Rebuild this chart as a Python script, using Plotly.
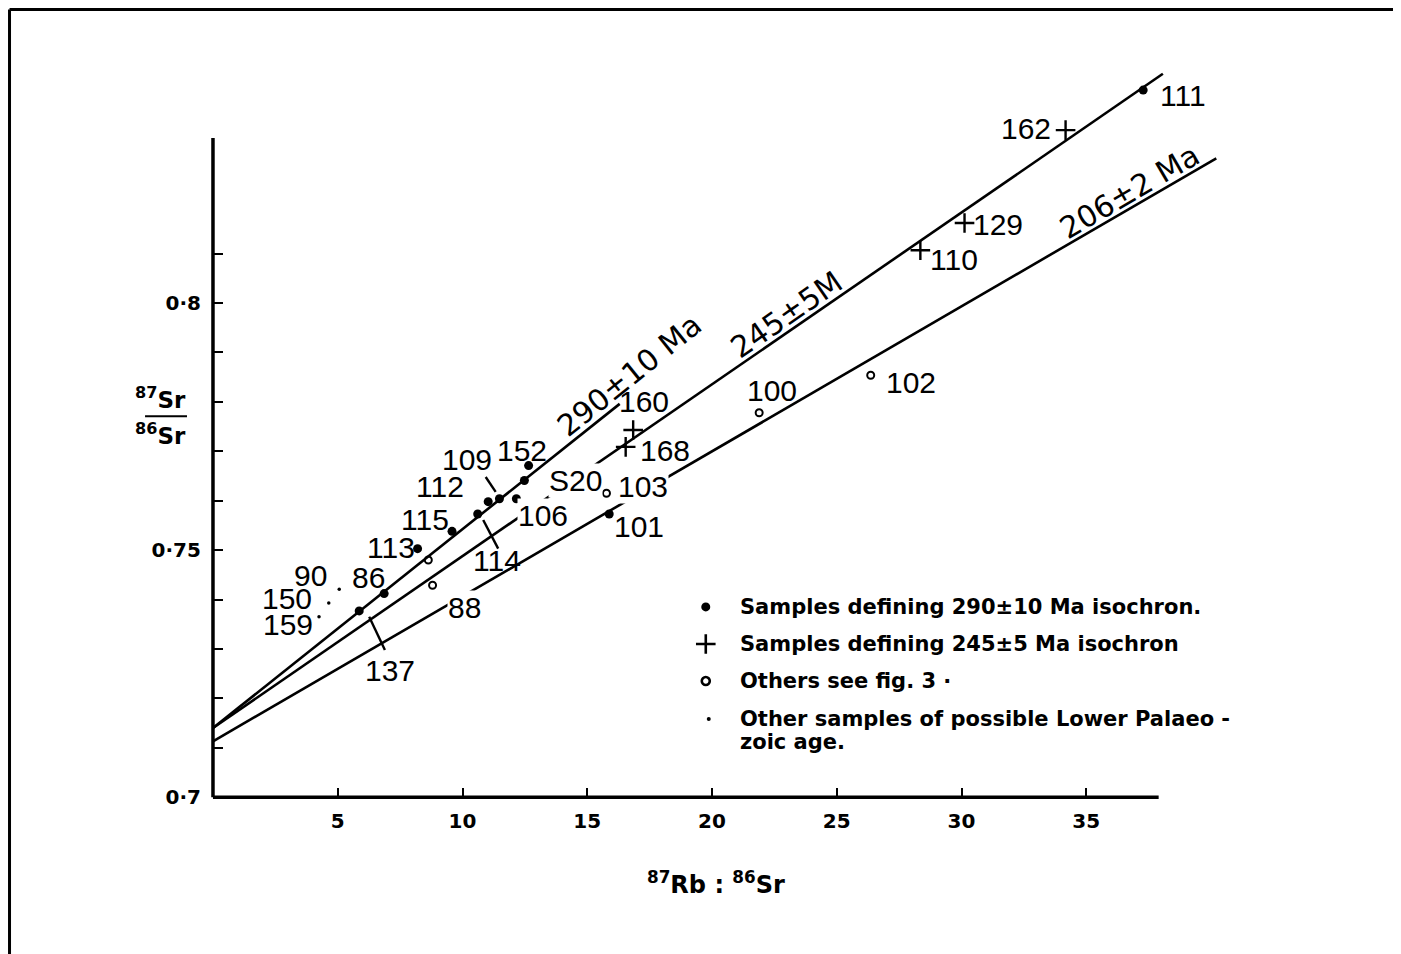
import plotly.graph_objects as go

# ---------------- data ----------------
# Samples defining the 290 +/- 10 Ma isochron (filled dots)
dot_ids = ["", "86", "113", "115", "114", "109", "112", "106", "S20", "152", "101", "111"]
dot_x = [5.86, 6.86, 8.20, 9.58, 10.61, 11.03, 11.48, 12.16, 12.48, 12.65, 15.88, 37.28]
dot_y = [0.7377, 0.7412, 0.7503, 0.7538, 0.7573, 0.7598, 0.7604, 0.7604, 0.7641, 0.7671, 0.7573, 0.8431]

# Samples defining the 245 +/- 5 Ma isochron (plus signs)
plus_ids = ["168", "160", "110", "129", "162"]
plus_x = [16.54, 16.84, 28.35, 30.12, 34.17]
plus_y = [0.7709, 0.7743, 0.8107, 0.8162, 0.8350]

# Others, see fig. 3 (open circles)
open_ids = ["88", "", "103", "100", "102"]
open_x = [8.80, 8.63, 15.77, 21.89, 26.36]
open_y = [0.7429, 0.7480, 0.7615, 0.7778, 0.7854]

# Other samples of possible Lower Palaeozoic age (small dots)
small_ids = ["159", "150", "90"]
small_x = [4.25, 4.64, 5.06]
small_y = [0.7365, 0.7393, 0.7421]

# Isochron lines (end points)
iso_names = ["290 Ma", "245 Ma", "206 Ma"]
iso_x = [[0, 16.3], [0, 38.07], [0, 40.21]]
iso_y = [[0.7140, 0.7796], [0.7140, 0.8464], [0.7113, 0.8293]]

# Axis ticks
x_ticks = [5, 10, 15, 20, 25, 30, 35]
x_ticklabels = ["5", "10", "15", "20", "25", "30", "35"]
y_ticks = [0.70, 0.75, 0.80]
y_ticklabels = ["0·7", "0·75", "0·8"]
y_minor_ticks = [0.71, 0.72, 0.73, 0.74, 0.76, 0.77, 0.78, 0.79, 0.81]

# Sample-number labels (text, x, y)
lab_text = ["111", "162", "129", "110", "100", "102", "160", "168", "103", "101",
            "S20", "106", "152", "109", "112", "115", "113", "114", "90", "86",
            "150", "159", "137", "88"]
lab_x = [38.86, 32.57, 31.45, 29.69, 22.39, 27.96, 17.27, 18.11, 17.22, 17.07,
         14.52, 13.22, 12.40, 10.17, 9.10, 8.48, 7.13, 11.38, 3.92, 6.25,
         2.96, 3.00, 7.09, 10.09]
lab_y = [0.8421, 0.8354, 0.8158, 0.8089, 0.7824, 0.7840, 0.7800, 0.7702, 0.7628, 0.7547,
         0.7640, 0.7571, 0.7702, 0.7684, 0.7628, 0.7561, 0.7506, 0.7480, 0.7449, 0.7445,
         0.7403, 0.7350, 0.7257, 0.7383]
lab_mask = ["S20", "106", "103", "88"]

# Leader lines from labels to samples
lead_x = [[6.26, 6.89], [10.83, 11.43], [10.93, 11.33]]
lead_y = [[0.7365, 0.7298], [0.7561, 0.7503], [0.7648, 0.7618]]

# Isochron age labels
age_text = ["290±10 Ma", "245±5M", "206±2 Ma"]
age_x = [16.67, 22.99, 36.74]
age_y = [0.7854, 0.7976, 0.8225]
age_angle = [-38.8, -34.6, -30.2]

# Key
key_text = ["Samples defining 290±10 Ma isochron.",
            "Samples defining 245±5 Ma isochron",
            "Others see fig. 3 ·",
            "Other samples of possible Lower Palaeo -",
            "zoic age."]
key_y = [0.7385, 0.7310, 0.7235, 0.7158, 0.7111]

# ---------------- figure ----------------
BLACK = "black"
LAB_FONT = dict(family="Liberation Sans, Arial, sans-serif", size=30, color=BLACK)
AGE_FONT = dict(family="DejaVu Sans, sans-serif", size=30, color=BLACK)
KEY_FONT = dict(family="DejaVu Sans, sans-serif", size=21, color=BLACK, weight="bold")
TICK_FONT = dict(family="DejaVu Sans, sans-serif", size=20, color=BLACK, weight="bold")
TITLE_FONT = dict(family="DejaVu Sans, sans-serif", size=24, color=BLACK, weight="bold")
YLAB_FONT = dict(family="DejaVu Sans, sans-serif", size=23, color=BLACK, weight="bold")

fig = go.Figure()

for nm, xs, ys in zip(iso_names, iso_x, iso_y):
    fig.add_trace(go.Scatter(x=xs, y=ys, mode="lines", name=nm,
                             line=dict(color=BLACK, width=2.6), showlegend=False,
                             hoverinfo="skip"))

for xs, ys in zip(lead_x, lead_y):
    fig.add_trace(go.Scatter(x=xs, y=ys, mode="lines", line=dict(color=BLACK, width=2.4),
                             showlegend=False, hoverinfo="skip"))

fig.add_trace(go.Scatter(x=dot_x, y=dot_y, mode="markers", text=dot_ids, showlegend=False,
                         marker=dict(symbol="circle", size=9, color=BLACK)))
fig.add_trace(go.Scatter(x=plus_x, y=plus_y, mode="markers", text=plus_ids, showlegend=False,
                         marker=dict(symbol="cross-thin", size=14, color=BLACK,
                                     line=dict(color=BLACK, width=2.4))))
fig.add_trace(go.Scatter(x=open_x, y=open_y, mode="markers", text=open_ids, showlegend=False,
                         marker=dict(symbol="circle-open", size=7, color=BLACK,
                                     line=dict(color=BLACK, width=2))))
fig.add_trace(go.Scatter(x=small_x, y=small_y, mode="markers", text=small_ids, showlegend=False,
                         marker=dict(symbol="circle", size=3.5, color=BLACK)))

# key markers
KEY_MX = 19.75
fig.add_trace(go.Scatter(x=[KEY_MX], y=[key_y[0]], mode="markers", showlegend=False,
                         marker=dict(symbol="circle", size=9, color=BLACK)))
fig.add_trace(go.Scatter(x=[KEY_MX], y=[key_y[1]], mode="markers", showlegend=False,
                         marker=dict(symbol="cross-thin", size=14, color=BLACK,
                                     line=dict(color=BLACK, width=2.6))))
fig.add_trace(go.Scatter(x=[KEY_MX], y=[key_y[2]], mode="markers", showlegend=False,
                         marker=dict(symbol="circle-open", size=8, color=BLACK,
                                     line=dict(color=BLACK, width=2.6))))
fig.add_trace(go.Scatter(x=[KEY_MX + 0.12], y=[key_y[3]], mode="markers", showlegend=False,
                         marker=dict(symbol="circle", size=4, color=BLACK)))

ann = []
for t, x, y in zip(lab_text, lab_x, lab_y):
    a = dict(x=x, y=y, xref="x", yref="y", text=t, showarrow=False, font=LAB_FONT,
             xanchor="center", yanchor="middle")
    if t in lab_mask:
        a.update(bgcolor="white", borderpad=0)
    ann.append(a)
for t, x, y, ang in zip(age_text, age_x, age_y, age_angle):
    ann.append(dict(x=x, y=y, xref="x", yref="y", text=t, showarrow=False, font=AGE_FONT,
                    textangle=ang, xanchor="center", yanchor="middle"))
for t, y in zip(key_text, key_y):
    ann.append(dict(x=21.03, y=y, xref="x", yref="y", text=t, showarrow=False, font=KEY_FONT,
                    xanchor="left", yanchor="middle"))

# axis titles (paper coords)
ann.append(dict(x=0.4966, y=-0.094, xref="paper", yref="paper",
                text="<sup>87</sup>Rb : <sup>86</sup>Sr", showarrow=False, font=TITLE_FONT,
                xanchor="center", yanchor="middle"))
ann.append(dict(x=-0.0416, y=0.548, xref="paper", yref="paper", text="<sup>87</sup>Sr",
                showarrow=False, font=YLAB_FONT, xanchor="center", yanchor="middle"))
ann.append(dict(x=-0.0416, y=0.500, xref="paper", yref="paper", text="<sup>86</sup>Sr",
                showarrow=False, font=YLAB_FONT, xanchor="center", yanchor="middle"))

shapes = [
    # axis lines
    dict(type="line", xref="x", yref="y", x0=0, y0=0.7, x1=37.9, y1=0.7,
         line=dict(color=BLACK, width=3.5)),
    dict(type="line", xref="x", yref="y", x0=0, y0=0.7, x1=0, y1=0.8334,
         line=dict(color=BLACK, width=3.5)),
    # fraction bar of y label
    dict(type="line", xref="paper", yref="paper", x0=-0.0561, x1=-0.0155, y0=0.5235, y1=0.5235,
         line=dict(color=BLACK, width=2)),
    # frame (left and top edges)
    dict(type="line", xref="paper", yref="paper", x0=-0.1873, x1=-0.1873, y0=-0.25, y1=1.0615,
         line=dict(color=BLACK, width=3)),
    dict(type="line", xref="paper", yref="paper", x0=-0.1873, x1=1.2, y0=1.0615, y1=1.0615,
         line=dict(color=BLACK, width=3)),
]

fig.update_layout(
    width=1393, height=946,
    margin=dict(l=195, r=165, t=48, b=142),
    paper_bgcolor="white", plot_bgcolor="white",
    showlegend=False,
    annotations=ann, shapes=shapes,
    xaxis=dict(range=[-0.4, 41.0], anchor="free", position=0.019608, side="bottom",
               showline=False, showgrid=False, zeroline=False,
               tickmode="array", tickvals=x_ticks, ticktext=x_ticklabels,
               ticks="inside", ticklen=9, tickwidth=2, tickcolor=BLACK,
               tickfont=TICK_FONT, ticklabelstandoff=10),
    yaxis=dict(range=[0.697, 0.85], anchor="free", position=0.009662, side="left",
               showline=False, showgrid=False, zeroline=False,
               tickmode="array", tickvals=y_ticks, ticktext=y_ticklabels,
               ticks="inside", ticklen=9, tickwidth=2, tickcolor=BLACK,
               tickfont=TICK_FONT, ticklabelstandoff=12,
               minor=dict(tickvals=y_minor_ticks, ticks="inside", ticklen=9,
                          tickwidth=2, tickcolor=BLACK, showgrid=False)),
)

fig.write_html("out.html")
